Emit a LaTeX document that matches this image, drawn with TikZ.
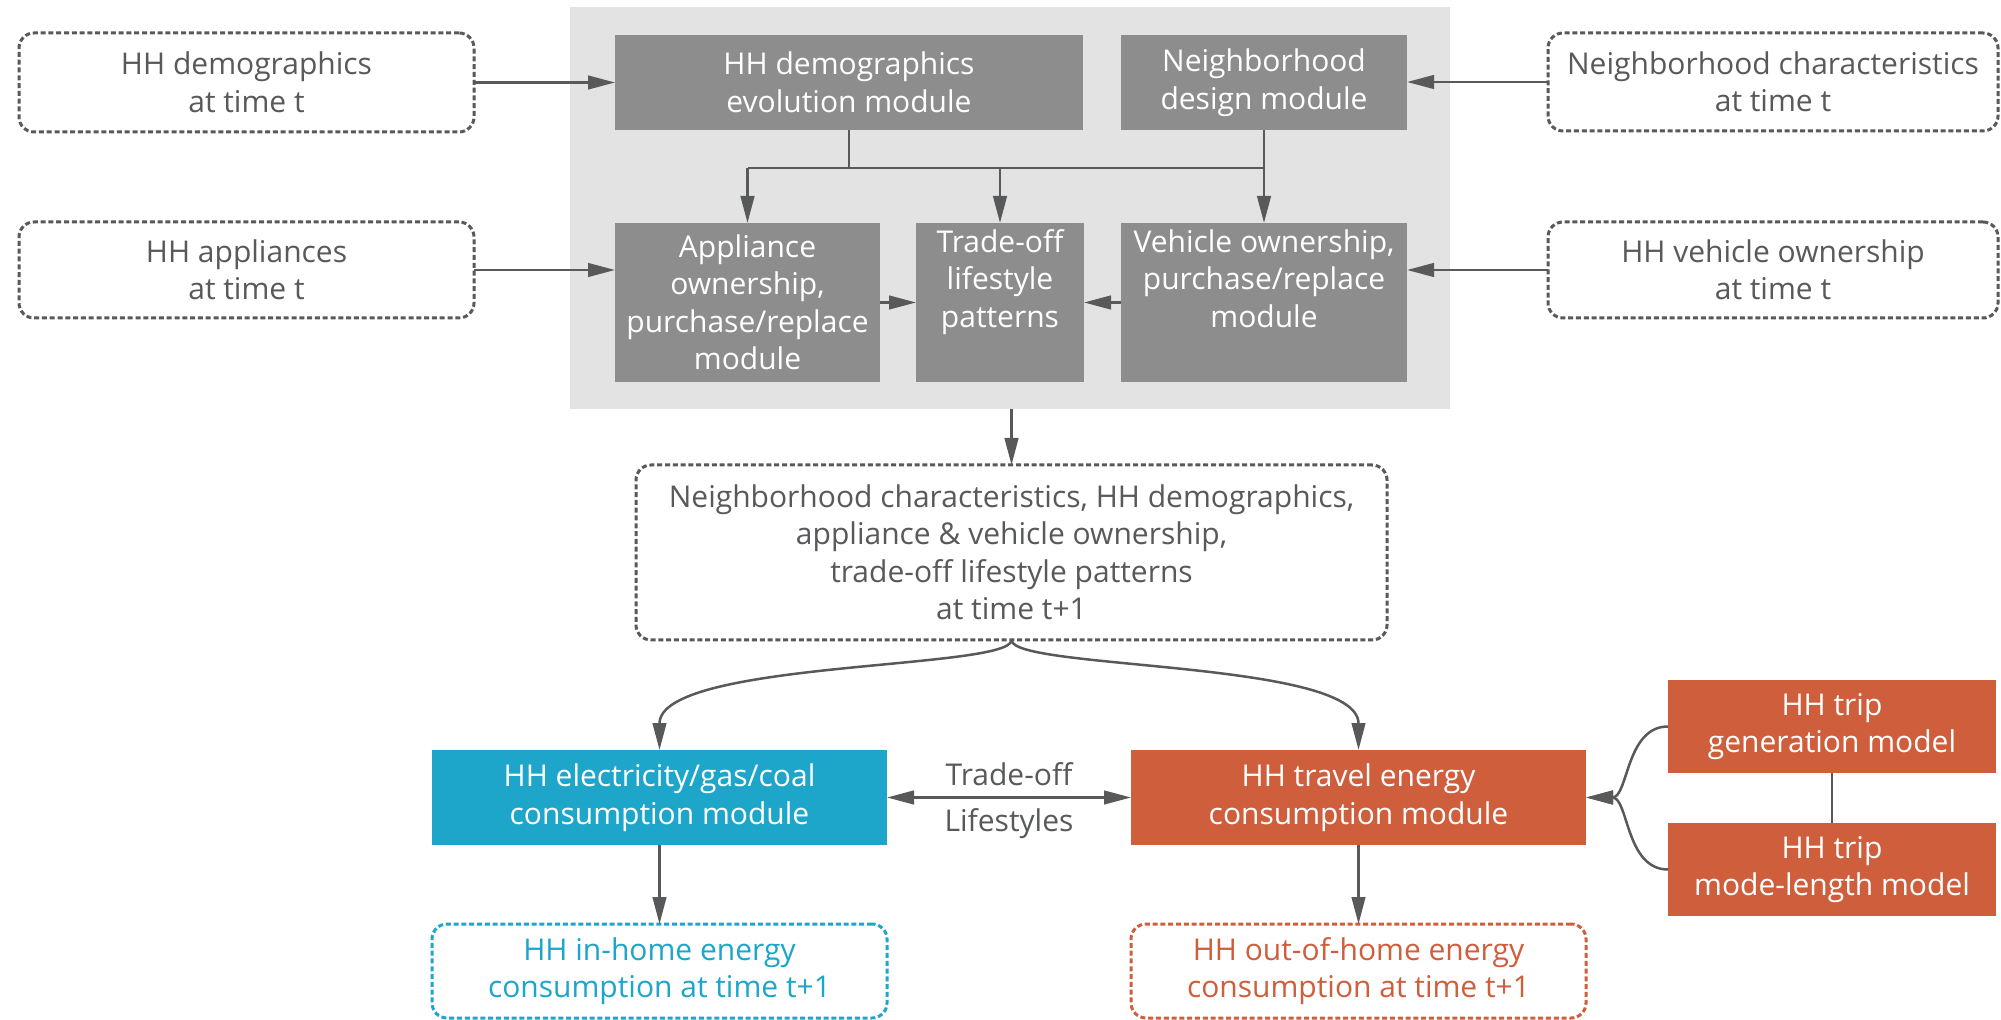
\documentclass[tikz,border=0pt]{standalone}
\usepackage{fontspec}
\setmainfont{Open Sans}
\usetikzlibrary{arrows.meta}
\definecolor{tgray}{RGB}{88,89,91}
\definecolor{boxgray}{RGB}{141,141,141}
\definecolor{bggray}{RGB}{227,227,227}
\definecolor{hblue}{RGB}{29,166,202}
\definecolor{horange}{RGB}{207,94,61}
\begin{document}
\begin{tikzpicture}[x=0.5pt, y=-0.5pt, font=\fontsize{15pt}{18.75pt}\selectfont,
  sz/.style 2 args={minimum width=#1*0.5pt, minimum height=#2*0.5pt},
  bx/.style={inner sep=0pt, outer sep=0pt, align=center},
  dbox/.style={bx, draw=tgray, line width=1.5pt, dash pattern=on 2.5pt off 1.4pt, rounded corners=7.5pt, text=tgray},
  gbox/.style={bx, fill=boxgray, text=white},
  fbox/.style={bx, text=white},
  conn/.style={draw=tgray, line width=1.25pt},
  arr/.style={conn, -{Triangle[length=13.5pt,width=6.8pt]}},
  arrb/.style={conn, {Triangle[length=13.5pt,width=6.8pt]}-{Triangle[length=13.5pt,width=6.8pt]}},
  lbl/.style={text=tgray, inner sep=5pt}
]
\useasboundingbox (0,0) rectangle (2001,1020);
\fill[white] (0,0) rectangle (2001,1020);

% grey panel
\node[bx, fill=bggray, sz={880}{402}] (bg) at (1010,208) {};

% inputs at time t
\node[dbox, sz={455}{99}] (dT) at (246.5,82.5) {HH demographics\\at time t};
\node[dbox, sz={455}{96}] (aT) at (246.5,270) {HH appliances\\at time t};
\node[dbox, sz={450}{98}] (nT) at (1773,82) {Neighborhood characteristics\\at time t};
\node[dbox, sz={450}{96}] (vT) at (1773,270) {HH vehicle ownership\\at time t};

% modules
\node[gbox, sz={468}{95}] (evo) at (849,82.5) {HH demographics\\evolution module};
\node[gbox, sz={286}{95}] (des) at (1264,82.5) {Neighborhood\\design module};
\node[gbox, sz={265}{159}] (app) at (747.5,302.5) {Appliance\\ownership,\\purchase/replace\\module};
\node[gbox, sz={168}{159}] (trd) at (1000,302.5) {Trade-off\\lifestyle\\patterns\\\strut};
\node[gbox, sz={286}{159}] (veh) at (1264,302.5) {Vehicle ownership,\\purchase/replace\\module\\\strut};

% state at t+1
\node[dbox, sz={751}{175}] (big) at (1011.5,552.5) {Neighborhood characteristics, HH demographics,\\appliance \& vehicle ownership,\\trade-off lifestyle patterns\\at time t+1};

% consumption modules
\node[fbox, fill=hblue, sz={455}{95}] (elec) at (659.5,797.5) {HH electricity/gas/coal\\consumption module};
\node[fbox, fill=horange, sz={455}{95}] (trav) at (1358.5,797.5) {HH travel energy\\consumption module};
\node[fbox, fill=horange, sz={328}{93}] (gen) at (1832,726.5) {HH trip\\generation model};
\node[fbox, fill=horange, sz={328}{93}] (mode) at (1832,869.5) {HH trip\\mode-length model};

% outputs
\node[dbox, draw=hblue, text=hblue, sz={455}{94}] (inh) at (659.5,971) {HH in-home energy\\consumption at time t+1};
\node[dbox, draw=horange, text=horange, sz={455}{94}] (outh) at (1358.5,971) {HH out-of-home energy\\consumption at time t+1};

% connectors, top
\draw[arr] (dT.east) -- (evo.west);
\draw[arr] (aT.east) -- (aT.east -| app.west);
\draw[arr] (nT.west) -- (nT.west -| des.east);
\draw[arr] (vT.west) -- (vT.west -| veh.east);
\coordinate (br) at (1264,168);
\draw[conn] (evo.south) -- (evo.south |- br);
\draw[conn] (app.north |- br) -- (br);
\draw[arr] (app.north |- br) -- (app.north);
\draw[arr] (trd.north |- br) -- (trd.north);
\draw[arr] (des.south) -- (veh.north);
\draw[arr] (app.east) -- (trd.west);
\draw[arr] (veh.west) -- (trd.east);

% connectors, middle
\draw[arr] (bg.south -| big.north) -- (big.north);
\draw[arr] (big.south) .. controls +(0,30) and +(0,-90) .. (elec.north);
\draw[arr] (big.south) .. controls +(0,30) and +(0,-90) .. (trav.north);
\draw[arrb] (elec.east) -- node[lbl, above] (lt1) {Trade-off} node[lbl, below] (lt2) {Lifestyles} (trav.west);

% connectors, bottom
\draw[arr] (elec.south) -- (inh.north);
\draw[arr] (trav.south) -- (outh.north);
\draw[conn] (gen.south) -- (mode.north);
\draw[arr] (gen.west) to[out=180,in=0] (trav.east);
\draw[arr] (mode.west) to[out=180,in=0] (trav.east);
\end{tikzpicture}
\end{document}
